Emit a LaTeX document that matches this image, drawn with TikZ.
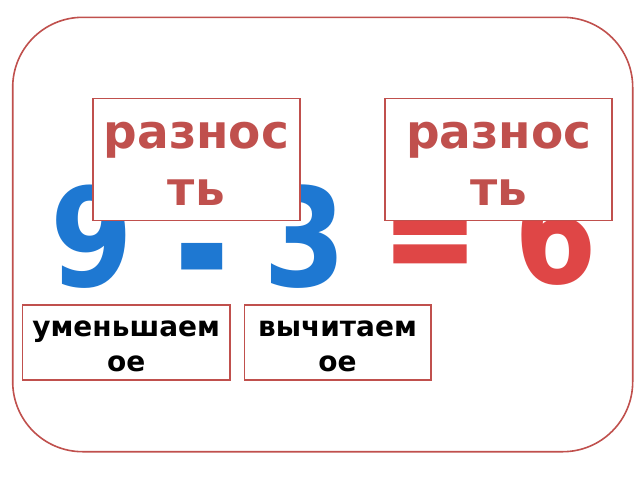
\documentclass[tikz,border=0pt]{standalone}
\usepackage{fontspec}
\setmainfont{DejaVu Sans}
\newfontface\heavyfont[FakeBold=3.4]{DejaVu Sans Bold}
\definecolor{framered}{HTML}{C0504D}
\definecolor{digitblue}{HTML}{1E78D2}
\definecolor{digitred}{HTML}{DF4646}
\begin{document}
\begin{tikzpicture}[x=1pt,y=-1pt,
  frame/.style={draw=framered, line width=1.6pt},
  labelbox/.style={draw=framered, line width=1.6pt, fill=white, inner sep=0pt},
  toptext/.style={inner sep=0pt, align=center, text=framered, font=\fontsize{47}{57}\selectfont\bfseries},
  bottext/.style={inner sep=0pt, align=center, text=black, font=\fontsize{28}{35}\selectfont\bfseries},
  bigdigit/.style={inner sep=0pt, anchor=base, font=\fontsize{137}{137}\selectfont\bfseries}
]
\useasboundingbox (0,0) rectangle (640,480);
\fill[white] (0,0) rectangle (640,480);
% outer frame
\draw[frame, rounded corners=70pt] (12.7,17.3) rectangle (632.7,451.7);
% digits
\node[bigdigit, text=digitblue] (d9) at (91.5,286.5) {\scalebox{0.87}[1]{9}};
\node[bigdigit, text=digitblue, font=\fontsize{178}{178}\selectfont\bfseries] (minus) at (202,310) {\scalebox{0.75}[1.05]{-}};
\node[bigdigit, text=digitblue] (d3) at (305,286.5) {\scalebox{0.87}[1]{3}};
\node[bigdigit, text=digitred, font=\fontsize{148}{148}\heavyfont] (eq) at (430,279.5) {\scalebox{0.75}[0.86]{=}};
\node[bigdigit, text=digitred] (d6) at (556,283.5) {\scalebox{0.87}[1]{6}};
% label boxes
\node[labelbox, minimum width=207pt, minimum height=122pt] (diff1) at (196.4,159.3) {};
\node[labelbox, minimum width=227pt, minimum height=122pt] (diff2) at (498.7,159.3) {};
\node[labelbox, minimum width=207.7pt, minimum height=75pt] (minuend) at (126.2,342.5) {};
\node[labelbox, minimum width=186.4pt, minimum height=75pt] (subtr) at (337.5,342.5) {};
% label texts
\node[toptext] (t1) at ([yshift=-5pt]diff1.center) {разнос\\ть};
\node[toptext] (t2) at ([yshift=-5pt]diff2.center) {разнос\\ть};
\node[bottext] (t3) at ([yshift=-4pt]minuend.center) {уменьшаем\\ое};
\node[bottext] (t4) at ([yshift=-4pt]subtr.center) {вычитаем\\ое};
\end{tikzpicture}
\end{document}
